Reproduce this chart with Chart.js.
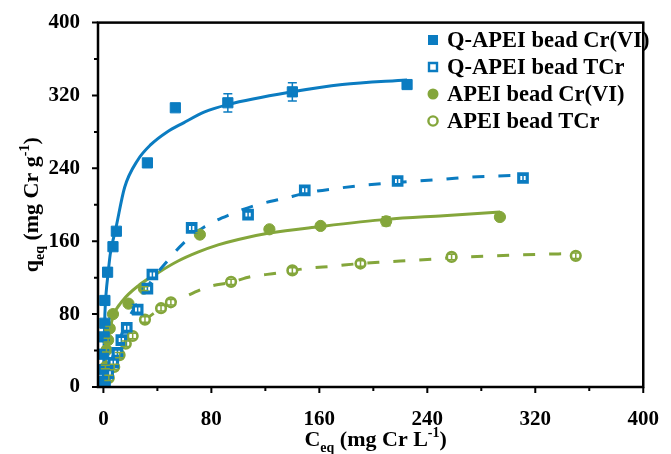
<!DOCTYPE html>
<html>
<head>
<meta charset="utf-8">
<script src="https://cdn.jsdelivr.net/npm/chart.js@4.4.1/dist/chart.umd.min.js"></script>
<style>
  html, body { margin: 0; padding: 0; background: #fff; }
  #wrap { width: 671px; height: 454px; }
</style>
</head>
<body>
<div id="wrap"><canvas id="myChart" width="671" height="454"></canvas></div>
<script>
// couleurs des séries
const BLUE = "#0b7cc1";
const GREEN = "#84a63b";
const FONT = "'Liberation Serif', 'Times New Roman', serif";

// graduations des axes
const xTicks = [0, 80, 160, 240, 320, 400];
const yTicks = [0, 80, 160, 240, 320, 400];

// Q-APEI bead Cr(VI) - points mesurés
const qaCrX = [1.1, 0.2, 0.2, 0.6, 1.1, 1.1, 3.1, 7.1, 9.6, 32.6, 53.3, 92.2, 140, 225];
const qaCrY = [6, 19, 36, 55, 70, 95, 126, 154, 171, 246, 306.5, 312, 324, 332];
const qaCrErr = [2, 2, 2, 2, 2, 3, 3, 3, 3, 3, 3, 10, 10, 3];

// Q-APEI bead TCr
const qaTcX = [1.1, 3.5, 7.3, 10.4, 13.3, 17.3, 25.4, 32.6, 36.3, 65.4, 107.2, 149.2, 218, 310.9];
const qaTcY = [5.8, 15, 26.6, 37.6, 51.5, 65, 85, 108, 123.5, 174.6, 189.2, 215.9, 226.1, 229.4];
const qaTcErr = [3, 3, 3, 3, 3, 3, 3, 3, 3, 3, 3, 3, 3, 3];

// APEI bead Cr(VI)
const apCrX = [1.5, 2.3, 3.5, 4.7, 7.1, 18.6, 30, 71.5, 123, 160.9, 209.5, 293.8];
const apCrY = [22, 40.5, 51.5, 64.3, 80, 91.5, 108, 167.3, 173.1, 176.8, 181.9, 186.6];
const apCrErr = [2, 2, 2, 2, 2, 2, 2, 2, 2, 2, 5, 2];

// APEI bead TCr
const apTcX = [4, 8, 12, 16.6, 21.7, 30.8, 42.7, 50, 94.6, 140, 190.5, 258, 350];
const apTcY = [10, 22, 35, 47.5, 56, 74, 86.5, 93, 115.4, 128, 135.5, 142.8, 144];
const apTcErr = [3, 3, 3, 3, 3, 3, 3, 3, 3, 3, 3, 3, 3];

// courbes d'ajustement
const fitQaCrX = [0, 0.5, 1.1, 2, 3.5, 5, 7.1, 8.9, 15.7, 25.4, 35.1, 47.2, 59.4, 75, 92.2, 140, 177, 225];
const fitQaCrY = [0, 45, 80, 103, 125, 145, 161, 172, 219, 249, 266, 280, 290, 302, 310, 324, 332, 337];

const fitQaTcX = [0, 5, 10, 15, 20, 26.6, 36.3, 47.2, 59.4, 75, 95, 114, 134, 152, 173, 193, 214, 232, 252, 272, 291, 311];
const fitQaTcY = [0, 25, 45, 63, 79, 95, 118, 138, 158, 176, 190, 200, 207, 213.5, 218, 221.5, 224, 226, 228, 230.5, 231.6, 232.5];

const fitApCrX = [0, 1.1, 3.5, 7.1, 14.4, 26.6, 40, 55, 70, 85, 100, 123, 160, 210, 252, 294];
const fitApCrY = [0, 22, 51.5, 77, 95, 112, 125, 138, 148, 156, 162, 169, 176, 184, 188, 192];

const fitApTcX = [0, 4, 8, 12, 16.6, 21.7, 30.8, 42.7, 50, 56, 78, 95, 109, 129, 150, 170, 190, 209, 231, 250, 269, 289, 308, 328, 348];
const fitApTcY = [0, 12, 24, 35, 46, 56, 73, 86, 92, 96, 110, 115, 121, 125, 130, 132.6, 135.5, 137.3, 139.2, 141, 142.8, 143.9, 145, 145.8, 146.5];

// légende
const legendLabels = ["Q-APEI bead Cr(VI)", "Q-APEI bead TCr", "APEI bead Cr(VI)", "APEI bead TCr"];

function pts(xs, ys) {
  return xs.map((x, i) => ({ x: x, y: ys[i] }));
}

function pointSet(label, xs, ys, errs, style, filled, color, radius, bw) {
  return {
    label: label,
    data: pts(xs, ys),
    errors: errs,
    showLine: false,
    pointStyle: style,
    pointRadius: radius,
    pointHoverRadius: radius,
    pointBorderWidth: bw,
    borderColor: color,
    backgroundColor: filled ? color : "#ffffff",
    pointBackgroundColor: filled ? color : "#ffffff",
    pointBorderColor: color,
  };
}

function lineSet(xs, ys, color, dash) {
  return {
    label: "",
    data: pts(xs, ys),
    showLine: true,
    pointRadius: 0,
    borderColor: color,
    borderWidth: 3,
    borderDash: dash,
    cubicInterpolationMode: "monotone",
    fill: false,
  };
}

const data = {
  datasets: [
    pointSet(legendLabels[0], qaCrX, qaCrY, qaCrErr, "rect", true, BLUE, 7.2, 1),
    pointSet(legendLabels[1], qaTcX, qaTcY, qaTcErr, "rect", false, BLUE, 6, 3.2),
    pointSet(legendLabels[2], apCrX, apCrY, apCrErr, "circle", true, GREEN, 5.6, 1),
    pointSet(legendLabels[3], apTcX, apTcY, apTcErr, "circle", false, GREEN, 4.8, 2.6),
    lineSet(fitQaCrX, fitQaCrY, BLUE, []),
    lineSet(fitQaTcX, fitQaTcY, BLUE, [12, 14]),
    lineSet(fitApCrX, fitApCrY, GREEN, []),
    lineSet(fitApTcX, fitApTcY, GREEN, [12, 14]),
  ],
};

// barres d'erreur
const errorBars = {
  id: "errorBars",
  afterDatasetsDraw(chart) {
    const ctx = chart.ctx;
    const ys = chart.scales.y;
    chart.data.datasets.forEach((ds, di) => {
      if (!ds.errors) return;
      const meta = chart.getDatasetMeta(di);
      ctx.save();
      ctx.strokeStyle = ds.borderColor;
      ctx.lineWidth = 1.5;
      meta.data.forEach((el, i) => {
        const e = ds.errors[i];
        const v = ds.data[i].y;
        const top = ys.getPixelForValue(v + e);
        const bot = ys.getPixelForValue(v - e);
        ctx.beginPath();
        ctx.moveTo(el.x, top);
        ctx.lineTo(el.x, bot);
        ctx.moveTo(el.x - 4.5, top);
        ctx.lineTo(el.x + 4.5, top);
        ctx.moveTo(el.x - 4.5, bot);
        ctx.lineTo(el.x + 4.5, bot);
        ctx.stroke();
      });
      ctx.restore();
    });
  },
};

// cadre, graduations, titres et légende
function richText(ctx, parts, x, y, center) {
  let w = 0;
  parts.forEach((p) => {
    ctx.font = "bold " + p.s + "px " + FONT;
    w += ctx.measureText(p.t).width;
  });
  let cx = center ? x - w / 2 : x;
  parts.forEach((p) => {
    ctx.font = "bold " + p.s + "px " + FONT;
    ctx.fillText(p.t, cx, y + (p.dy || 0));
    cx += ctx.measureText(p.t).width;
  });
}

const frame = {
  id: "frame",
  afterDraw(chart) {
    const ctx = chart.ctx;
    const a = chart.chartArea;
    const xs = chart.scales.x;
    const ys = chart.scales.y;
    ctx.save();
    ctx.strokeStyle = "#000";
    ctx.lineWidth = 2.5;
    ctx.strokeRect(a.left, a.top, a.right - a.left, a.bottom - a.top);

    ctx.lineWidth = 2;
    ctx.beginPath();
    for (let v = 0; v <= 400; v += 40) {
      const len = v % 80 === 0 ? 6 : 4;
      const px = xs.getPixelForValue(v);
      ctx.moveTo(px, a.bottom);
      ctx.lineTo(px, a.bottom + len);
      const py = ys.getPixelForValue(v);
      ctx.moveTo(a.left, py);
      ctx.lineTo(a.left - len, py);
    }
    ctx.stroke();

    // titres des axes
    ctx.fillStyle = "#000";
    ctx.textBaseline = "alphabetic";
    ctx.textAlign = "left";
    richText(ctx, [
      { t: "C", s: 22 },
      { t: "eq", s: 14, dy: 6 },
      { t: " (mg Cr L", s: 22 },
      { t: "-1", s: 14, dy: -9 },
      { t: ")", s: 22 },
    ], (a.left + a.right) / 2 + 5, 446, true);

    ctx.save();
    ctx.translate(38, (a.top + a.bottom) / 2);
    ctx.rotate(-Math.PI / 2);
    richText(ctx, [
      { t: "q", s: 22 },
      { t: "eq", s: 14, dy: 6 },
      { t: " (mg Cr g", s: 22 },
      { t: "-1", s: 14, dy: -9 },
      { t: ")", s: 22 },
    ], 0, 0, true);
    ctx.restore();

    // légende
    const rows = [40, 67, 94, 121];
    const styles = [
      { c: BLUE, shape: "rect", fill: true },
      { c: BLUE, shape: "rect", fill: false },
      { c: GREEN, shape: "circle", fill: true },
      { c: GREEN, shape: "circle", fill: false },
    ];
    rows.forEach((ry, i) => {
      const s = styles[i];
      const mx = 433;
      ctx.beginPath();
      if (s.shape === "rect") {
        if (s.fill) ctx.rect(mx - 5, ry - 5, 10, 10);
        else ctx.rect(mx - 4, ry - 4, 8, 8);
      } else {
        ctx.arc(mx, ry, s.fill ? 5.5 : 4.6, 0, Math.PI * 2);
      }
      if (s.fill) {
        ctx.fillStyle = s.c;
        ctx.fill();
      } else {
        ctx.strokeStyle = s.c;
        ctx.lineWidth = 2.4;
        ctx.stroke();
      }
      ctx.fillStyle = "#000";
      ctx.font = "bold 22.5px " + FONT;
      ctx.textBaseline = "middle";
      ctx.fillText(legendLabels[i], 447, ry + 1);
    });
    ctx.restore();
  },
};

const config = {
  type: "scatter",
  data: data,
  options: {
    responsive: false,
    animation: false,
    layout: { padding: { left: 0, top: 22, right: 19, bottom: 0 } },
    plugins: {
      legend: { display: false },
      tooltip: { enabled: false },
    },
    scales: {
      x: {
        type: "linear",
        min: -4,
        max: 400,
        grid: { display: false },
        border: { display: false },
        afterBuildTicks: (s) => { s.ticks = xTicks.map((v) => ({ value: v })); },
        afterFit: (s) => { s.height = 67; },
        ticks: {
          padding: 12,
          color: "#000",
          maxRotation: 0,
          font: { family: FONT, weight: "bold", size: 21 },
        },
      },
      y: {
        type: "linear",
        min: 0,
        max: 400,
        grid: { display: false },
        border: { display: false },
        afterBuildTicks: (s) => { s.ticks = yTicks.map((v) => ({ value: v })); },
        afterFit: (s) => { s.width = 98; },
        ticks: {
          padding: 10,
          color: "#000",
          font: { family: FONT, weight: "bold", size: 21 },
        },
      },
    },
  },
  plugins: [errorBars, frame],
};

/* Création du graphique */
const context = document.getElementById("myChart").getContext("2d");
const chart = new Chart(context, config);
</script>
</body>
</html>
